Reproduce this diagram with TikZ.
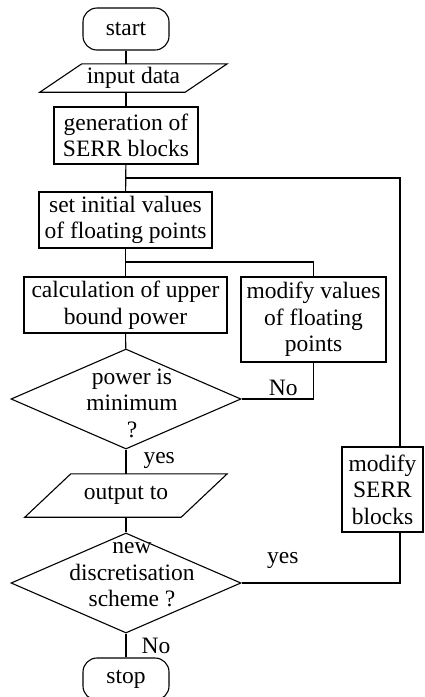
\documentclass[tikz,border=0pt]{standalone}
\usepackage{fontspec}
\setmainfont{Liberation Serif}
\usetikzlibrary{shapes.geometric,positioning}
\tikzset{
  ln/.style={line width=1.1pt},
  box/.style={draw,ln,align=center,inner sep=0pt,minimum width=#1},
  term/.style={box=86pt,minimum height=42pt,rounded corners=14pt},
  io/.style={align=center,inner sep=0pt,minimum width=#1},
  dec/.style={draw,ln,diamond,inner sep=0pt,minimum width=230pt,minimum height=100pt},
  txt/.style={align=center,inner sep=0pt},
}
\begin{document}
\begin{tikzpicture}[x=1pt,y=-1pt,font=\fontsize{23.5}{26.5}\selectfont]
  \useasboundingbox (0,0) rectangle (424,697);
  \node[term] (start) at (126,29) {start};
  \node[io=187pt,minimum height=28pt] (inp) at (133.5,78) {input data};
  \node[box=144pt,minimum height=57pt] (gen) at (126,135.5) {generation of\\SERR blocks};
  \node[box=173pt,minimum height=56pt] (init) at (125.5,220) {set initial values\\of floating points};
  \node[box=203pt,minimum height=56pt] (calc) at (125.5,305) {calculation of upper\\bound power};
  \node[box=145pt,minimum height=85pt] (modv) at (313.5,319.5) {modify values\\of floating\\points};
  \node[dec] (min) at (126,399) {};
  \node[txt] (mint) at (132,403) {power is\\minimum\\?};
  \node[io=202pt,minimum height=43pt] (outp) at (126,495.5) {output to};
  \node[box=81pt,minimum height=85pt] (mods) at (382.5,489.5) {modify\\SERR\\blocks};
  \node[dec] (disc) at (126,583) {};
  \node[txt] (disct) at (132,575) {new\\discretisation\\scheme ?};
  \node[term] (stop) at (126,679) {stop};
  % slanted in/out boxes
  \draw[ln] (inp.south west) -- ([xshift=42pt]inp.north west) -- (inp.north east) -- ([xshift=-42pt]inp.south east) -- cycle;
  \draw[ln] (outp.south west) -- ([xshift=46pt]outp.north west) -- (outp.north east) -- ([xshift=-46pt]outp.south east) -- cycle;

  \coordinate (j1) at (126,178);
  \coordinate (j2) at (126,262);
  \draw[ln] (start) -- (start |- inp.north);
  \draw[ln] (start |- inp.south) -- (gen);
  \draw[ln] (gen) -- (init);
  \draw[ln] (j1) -| ([xshift=17.5pt]mods.north);
  \draw[ln] (init) -- (calc);
  \draw[ln] (j2) -| (modv.north);
  \draw[ln] (calc) -- (min);
  \draw[ln] (min.east) -| node[txt,pos=0.29,above=3pt] (no1) {No} (modv.south);
  \draw[ln] (min) -- node[txt,right=17pt,pos=0.45] (yes1) {yes} (outp);
  \draw[ln] (outp) -- (disc);
  \draw[ln] (disc.east) -| node[txt,pos=0.13,above=14pt] (yes2) {yes} ([xshift=17.5pt]mods.south);
  \draw[ln] (disc) -- node[txt,right=15pt,pos=0.5] (no2) {No} (stop);
\end{tikzpicture}
\end{document}
